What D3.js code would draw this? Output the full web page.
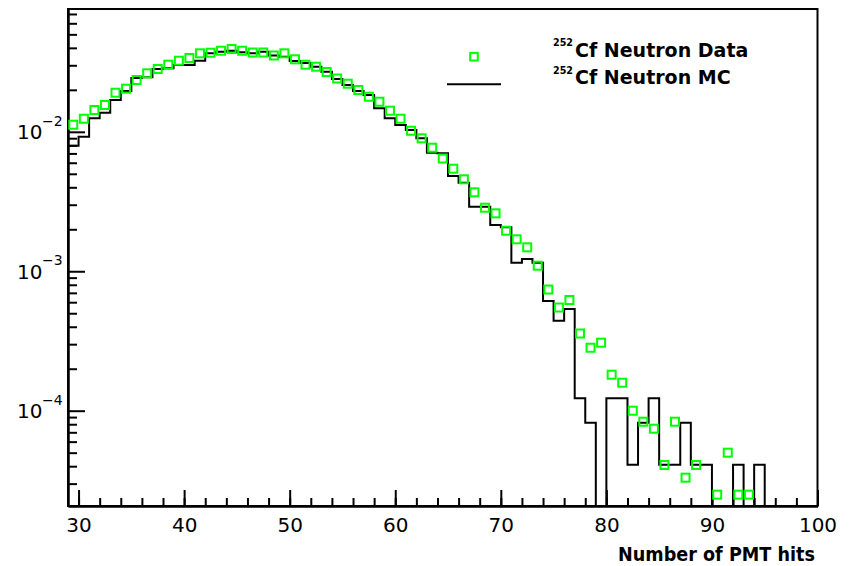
<!DOCTYPE html>
<html><head><meta charset="utf-8">
<script src="https://cdn.jsdelivr.net/npm/d3@7"></script>
<style>body{margin:0;background:#fff}svg{display:block}</style>
</head><body>
<svg id="c" width="850" height="566"></svg>
<script>
// ---- data (bins of width 1 starting at 29) ----
const firstBinLow = 29;
const binWidth = 1;
const dataValues = [
  0.01124, 0.01241, 0.01433, 0.01557, 0.01907, 0.02038, 0.02352, 0.02627, 0.02820, 0.03028, // 29-38
  0.03235, 0.03382, 0.03655, 0.03691, 0.03815, 0.03924, 0.03815, 0.03704, 0.03704, 0.03525, // 39-48
  0.03655, 0.03311, 0.03028, 0.02930, 0.02684, 0.02411, 0.02213, 0.01995, 0.01785, 0.01643, // 49-58
  0.01417, 0.01241, 0.01018, 0.008983, 0.007691, 0.006435, 0.005437, 0.004565, 0.003683, 0.002855, // 59-68
  0.002603, 0.001953, 0.001695, 0.001485, 0.001096, 0.0007394, 0.0005495, 0.0006219, 0.0003578, 0.0002829, // 69-78
  0.0003074, 0.0001812, 0.0001588, 0.0001000, 0.0000834, 0.0000743, 0.0000408, 0.0000834, 0.0000331, 0.0000408, // 79-88
  null, 0.0000250, 0.0000500, 0.0000250, 0.0000250 // 89-93
];
const mcValues = [
  0.007949, 0.009223, 0.01250, 0.01371, 0.01690, 0.01962, 0.02431, 0.02459, 0.02820, 0.02853, // 29-38
  0.03013, 0.03013, 0.03235, 0.03655, 0.03753, 0.03815, 0.03716, 0.03655, 0.03753, 0.03525, // 39-48
  0.03456, 0.03219, 0.03114, 0.02930, 0.02698, 0.02391, 0.02166, 0.01962, 0.01836, 0.01474, // 49-58
  0.01250, 0.01119, 0.01030, 0.008983, 0.007082, 0.007012, 0.004819, 0.004315, 0.002903, 0.002903, // 59-68
  0.002147, 0.002067, 0.001152, 0.001224, 0.001152, 0.0006117, 0.0004418, 0.0005361, 0.0001227, 0.0000818, // 69-78
  0, 0.0001227, 0.0001227, 0.0000409, 0.0000818, 0.0001227, 0.0000409, 0.0000409, 0.0000818, 0.0000409, // 79-88
  0.0000409, 0, 0, 0.0000409, 0, 0.0000409, 0, 0, 0, 0, 0 // 89-99
];
const xDomain = [29, 100];
const yDomain = [2.073e-5, 0.07598];
const xMajorTicks = [30, 40, 50, 60, 70, 80, 90, 100];
const xMinorTicks = d3.range(30, 101, 2);
const yMajorExponents = [-2, -3, -4];
const legendIsotope = "252";
const legendLabels = ["Cf Neutron Data", "Cf Neutron MC"];
const xTitle = "Number of PMT hits";

// ---- layout ----
const L = 68, R = 817.5, T = 9, B = 506;
const GREEN = "#00ff00";
const svg = d3.select("#c");
const x = d3.scaleLinear().domain(xDomain).range([L, R]);
const y = d3.scaleLog().domain(yDomain).range([B, T]);

// minor y ticks
const yMinor = [];
for (let e = -5; e <= -1; e++) for (let k = 2; k <= 9; k++) {
  const v = k * Math.pow(10, e);
  if (v >= yDomain[0] && v <= yDomain[1]) yMinor.push(v);
}

// axes
const gx = svg.append("g").attr("transform", `translate(0,${B})`);
gx.append("g").call(d3.axisBottom(x).tickValues(xMinorTicks).tickSize(-8).tickSizeOuter(0).tickFormat(""));
gx.append("g").call(d3.axisBottom(x).tickValues(xMajorTicks).tickSize(-16).tickSizeOuter(0).tickPadding(11.5).tickFormat(d3.format("d")));
gx.selectAll("text").attr("font-family", "DejaVu Sans").attr("font-size", 20).attr("fill", "#000");

const gy = svg.append("g").attr("transform", `translate(${L},0)`);
gy.append("g").call(d3.axisLeft(y).tickValues(yMinor).tickSize(-9).tickSizeOuter(0).tickFormat(""));
gy.append("g").call(d3.axisLeft(y).tickValues(yMajorExponents.map(e => Math.pow(10, e))).tickSize(-17).tickSizeOuter(0).tickFormat(""));
svg.selectAll(".tick line, .domain").attr("stroke", "#000").attr("stroke-width", 2);

// y tick labels with superscripts
yMajorExponents.forEach(e => {
  const yy = y(Math.pow(10, e));
  const t = svg.append("text").attr("font-family", "DejaVu Sans").attr("fill", "#000");
  t.append("tspan").attr("x", 17).attr("y", yy + 7.5).attr("font-size", 20).text("10");
  t.append("tspan").attr("x", 42).attr("y", yy - 6).attr("font-size", 14).text("\u2212" + (-e));
});

// frame
svg.append("rect").attr("x", L).attr("y", T).attr("width", R - L).attr("height", B - T)
  .attr("fill", "none").attr("stroke", "#000").attr("stroke-width", 2);

// MC histogram
const mcPts = mcValues.map((v, i) => ({ x: firstBinLow + i * binWidth, v }));
mcPts.push({ x: firstBinLow + mcValues.length * binWidth, v: mcValues[mcValues.length - 1] });
const line = d3.line()
  .x(d => x(d.x))
  .y(d => d.v > 0 ? Math.min(y(d.v), B) : B)
  .curve(d3.curveStepAfter);
svg.append("path").datum(mcPts).attr("d", line)
  .attr("fill", "none").attr("stroke", "#000").attr("stroke-width", 2);

// data markers
const S = 8;
svg.append("g").selectAll("rect").data(dataValues.map((v, i) => ({ c: firstBinLow + (i + 0.5) * binWidth, v })).filter(d => d.v != null))
  .join("rect")
  .attr("x", d => x(d.c) - S / 2).attr("y", d => y(d.v) - S / 2)
  .attr("width", S).attr("height", S)
  .attr("fill", "none").attr("stroke", GREEN).attr("stroke-width", 2);

// legend
svg.append("rect").attr("x", 474 - 3.8).attr("y", 56.7 - 3.8).attr("width", 7.6).attr("height", 7.6)
  .attr("fill", "none").attr("stroke", GREEN).attr("stroke-width", 2);
svg.append("line").attr("x1", 447).attr("x2", 501).attr("y1", 84.3).attr("y2", 84.3)
  .attr("stroke", "#000").attr("stroke-width", 2);
[56.7, 84.3].forEach((by, i) => {
  svg.append("text").attr("x", 553).attr("y", by - 10.5).attr("font-family", "DejaVu Sans")
    .attr("font-weight", "bold").attr("font-size", 11).attr("textLength", 20).attr("lengthAdjust", "spacingAndGlyphs")
    .attr("fill", "#000").text(legendIsotope);
  svg.append("text").attr("x", 575).attr("y", by).attr("font-family", "DejaVu Sans")
    .attr("font-weight", "bold").attr("font-size", 19).attr("fill", "#000").text(legendLabels[i]);
});

// x title
svg.append("text").attr("x", 815).attr("y", 561).attr("text-anchor", "end")
  .attr("font-family", "DejaVu Sans").attr("font-weight", "bold").attr("font-size", 19)
  .attr("textLength", 197).attr("lengthAdjust", "spacingAndGlyphs").attr("fill", "#000").text(xTitle);
</script>
</body></html>
